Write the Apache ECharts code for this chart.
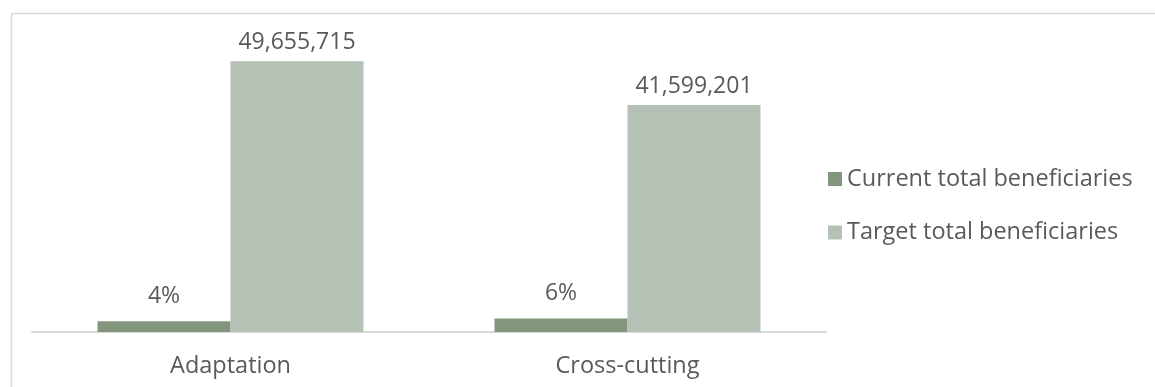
<!DOCTYPE html>
<html>
<head>
<meta charset="utf-8">
<script src="https://cdn.jsdelivr.net/npm/echarts@6/dist/echarts.min.js"></script>
<style>
  html, body { margin: 0; padding: 0; background: #ffffff; }
  #chart { width: 1155px; height: 387px; }
</style>
</head>
<body>
<div id="chart"></div>
<script>
// Beneficiaries by theme
const categories = ['Adaptation', 'Cross-cutting'];
const seriesNames = ['Current total beneficiaries', 'Target total beneficiaries'];
const targetBeneficiaries = [49655715, 41599201];
// Share of the target already reached, in percent
const currentSharePct = [4, 6];

const currentBeneficiaries = targetBeneficiaries.map((t, i) => t * currentSharePct[i] / 100);

const FONT = '"Open Sans"';
const TEXT = '#595959';
const FS = 23.5;
const LABEL_FS = 23;

const chart = echarts.init(document.getElementById('chart'), null, { renderer: 'canvas' });
chart.setOption({
  animation: false,
  backgroundColor: '#ffffff',
  textStyle: { fontFamily: FONT, color: TEXT },
  graphic: [{
    type: 'rect',
    left: 9, top: 11,
    shape: { width: 1160, height: 400 },
    style: { fill: 'none', stroke: '#d9d9d9', lineWidth: 1.5 },
    silent: true
  }],
  legend: {
    orient: 'vertical',
    left: 823,
    top: 162,
    itemWidth: 14,
    itemHeight: 14,
    itemGap: 29.5,
    icon: 'rect',
    textStyle: { fontFamily: FONT, fontSize: FS, color: TEXT },
    data: seriesNames
  },
  grid: { left: 32, right: 329, top: 32, bottom: 55, containLabel: false },
  xAxis: {
    type: 'category',
    data: categories,
    axisLine: { lineStyle: { color: '#d9d9d9', width: 2 } },
    axisTick: { show: false },
    axisLabel: { fontFamily: FONT, fontSize: FS, color: TEXT, margin: 22 }
  },
  yAxis: {
    type: 'value',
    min: 0,
    max: 55000000,
    show: false,
    splitLine: { show: false }
  },
  series: [
    {
      name: seriesNames[0],
      type: 'bar',
      data: currentBeneficiaries,
      barGap: '0%',
      barCategoryGap: '33%',
      itemStyle: { color: '#82957d' },
      label: {
        show: true,
        position: 'top',
        distance: 13,
        fontFamily: FONT,
        fontSize: LABEL_FS,
        color: TEXT,
        formatter: p => currentSharePct[p.dataIndex] + '%'
      }
    },
    {
      name: seriesNames[1],
      type: 'bar',
      data: targetBeneficiaries,
      barGap: '0%',
      barCategoryGap: '33%',
      itemStyle: { color: '#b5c1b4' },
      label: {
        show: true,
        position: 'top',
        distance: 7,
        fontFamily: FONT,
        fontSize: LABEL_FS,
        color: TEXT,
        formatter: p => p.value.toLocaleString('en-US')
      }
    }
  ]
});
</script>
</body>
</html>
